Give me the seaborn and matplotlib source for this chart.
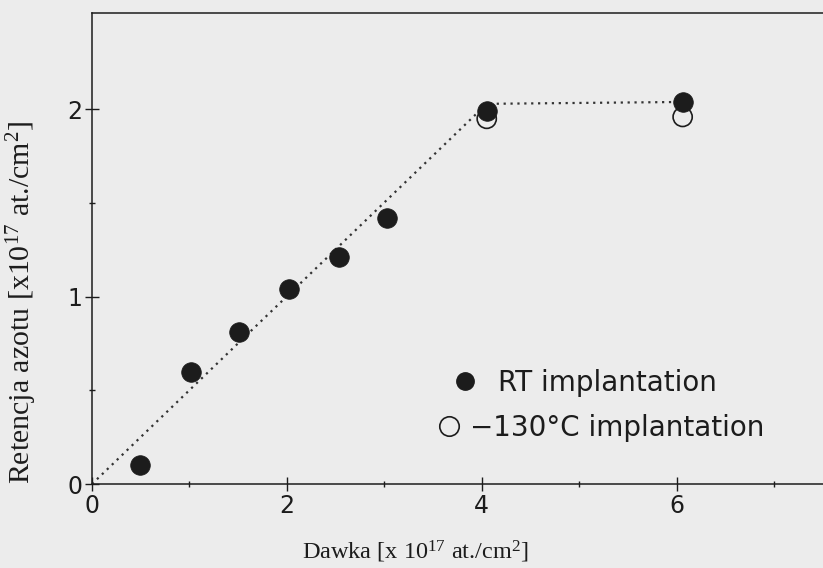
import matplotlib
matplotlib.use("Agg")
import matplotlib.pyplot as plt
from matplotlib.lines import Line2D
from matplotlib.ticker import FixedLocator, FixedFormatter, NullFormatter
import seaborn as sns
import pandas as pd

# Nitrogen retention vs implanted dose
dose_rt = [0.49, 1.02, 1.51, 2.02, 2.53, 3.03, 4.05, 6.06]
retention_rt = [0.10, 0.60, 0.81, 1.04, 1.21, 1.42, 1.99, 2.04]

dose_cold = [4.05, 6.06]
retention_cold = [1.95, 1.96]

# Guide line: full retention up to saturation, then plateau
guide_dose = [0.0, 4.05, 6.06]
guide_retention = [0.0, 2.03, 2.04]

x_major = [0, 2, 4, 6]
x_major_labels = ["0", "2", "4", "6"]
x_minor = [1, 3, 5, 7]
y_major = [0, 1, 2]
y_major_labels = ["0", "1", "2"]
y_minor = [0.5, 1.5]

label_rt = "RT implantation"
label_cold = "\u2212130\u00b0C implantation"

sns.set_theme(style="white")
serif = "Liberation Serif"
plt.rcParams["mathtext.fontset"] = "custom"
plt.rcParams["mathtext.rm"] = serif
plt.rcParams["mathtext.it"] = serif + ":italic"

paper = "#ececec"
ink = "#1c1c1c"

fig = plt.figure(figsize=(8.23, 5.68), dpi=100, facecolor=paper)
ax = fig.add_axes([92 / 823, 84 / 568, 731 / 823, 471 / 568])
ax.set_facecolor(paper)

df_rt = pd.DataFrame({"dose": dose_rt, "retention": retention_rt})
df_cold = pd.DataFrame({"dose": dose_cold, "retention": retention_cold})
df_guide = pd.DataFrame({"dose": guide_dose, "retention": guide_retention})

sns.lineplot(data=df_guide, x="dose", y="retention", ax=ax, sort=False,
             estimator=None, color="#333333", linewidth=1.6,
             linestyle=(0, (1, 2.1)), zorder=2)
sns.scatterplot(data=df_cold, x="dose", y="retention", ax=ax, s=190,
                facecolor="none", edgecolor=ink, linewidth=1.2, zorder=3)
sns.scatterplot(data=df_rt, x="dose", y="retention", ax=ax, s=200,
                color=ink, edgecolor=ink, linewidth=0.5, zorder=4)

ax.set_xlim(0, 7.5)
ax.set_ylim(0, 2.515)

for side in ("left", "bottom", "top"):
    ax.spines[side].set_visible(True)
    ax.spines[side].set_color(ink)
    ax.spines[side].set_linewidth(1.1)
ax.spines["right"].set_visible(False)

ax.xaxis.set_major_locator(FixedLocator(x_major))
ax.xaxis.set_major_formatter(FixedFormatter(x_major_labels))
ax.xaxis.set_minor_locator(FixedLocator(x_minor))
ax.xaxis.set_minor_formatter(NullFormatter())
ax.yaxis.set_major_locator(FixedLocator(y_major))
ax.yaxis.set_major_formatter(FixedFormatter(y_major_labels))
ax.yaxis.set_minor_locator(FixedLocator(y_minor))
ax.yaxis.set_minor_formatter(NullFormatter())
ax.tick_params(axis="both", which="major", direction="inout", length=10,
               width=1.0, color=ink, labelcolor=ink, labelsize=17,
               bottom=True, left=True, top=False, right=False)
ax.tick_params(axis="both", which="minor", direction="inout", length=5,
               width=1.0, color=ink, bottom=True, left=True,
               top=False, right=False)
ax.tick_params(axis="x", which="major", pad=2)
ax.tick_params(axis="y", which="major", pad=2)
for lab in ax.get_xticklabels() + ax.get_yticklabels():
    lab.set_family("DejaVu Sans")

ax.set_xlabel(r"Dawka [x 10$^{17}$ at./cm$^{2}$]", family=serif,
              fontsize=17.5, color=ink, va="center")
ax.xaxis.set_label_coords((415 - 92) / 731, (484 - 552) / 471)
ax.set_ylabel(r"Retencja azotu [x10$^{17}$ at./cm$^{2}$]", family=serif,
              fontsize=21.5, color=ink, va="center")
ax.yaxis.set_label_coords((22 - 92) / 731, (484 - 302) / 471)

legend_font = {"family": "DejaVu Sans", "size": 20}
h_rt = Line2D([], [], linestyle="none", marker="o", markersize=12.5,
              markerfacecolor=ink, markeredgecolor=ink)
h_cold = Line2D([], [], linestyle="none", marker="o", markersize=14,
                markerfacecolor="none", markeredgecolor=ink,
                markeredgewidth=1.2)

leg_rt = ax.legend([h_rt], [label_rt], loc="center left",
                   bbox_to_anchor=(455 / 823, 1 - 383 / 568),
                   bbox_transform=fig.transFigure, frameon=False,
                   borderpad=0, borderaxespad=0, handlelength=0.75,
                   handletextpad=0.8, prop=legend_font, labelcolor=ink)
ax.add_artist(leg_rt)
ax.legend([h_cold], [label_cold], loc="center left",
          bbox_to_anchor=(439 / 823, 1 - 428 / 568),
          bbox_transform=fig.transFigure, frameon=False,
          borderpad=0, borderaxespad=0, handlelength=0.75,
          handletextpad=0.35, prop=legend_font, labelcolor=ink)

fig.savefig("out.png", dpi=100, facecolor=paper)
